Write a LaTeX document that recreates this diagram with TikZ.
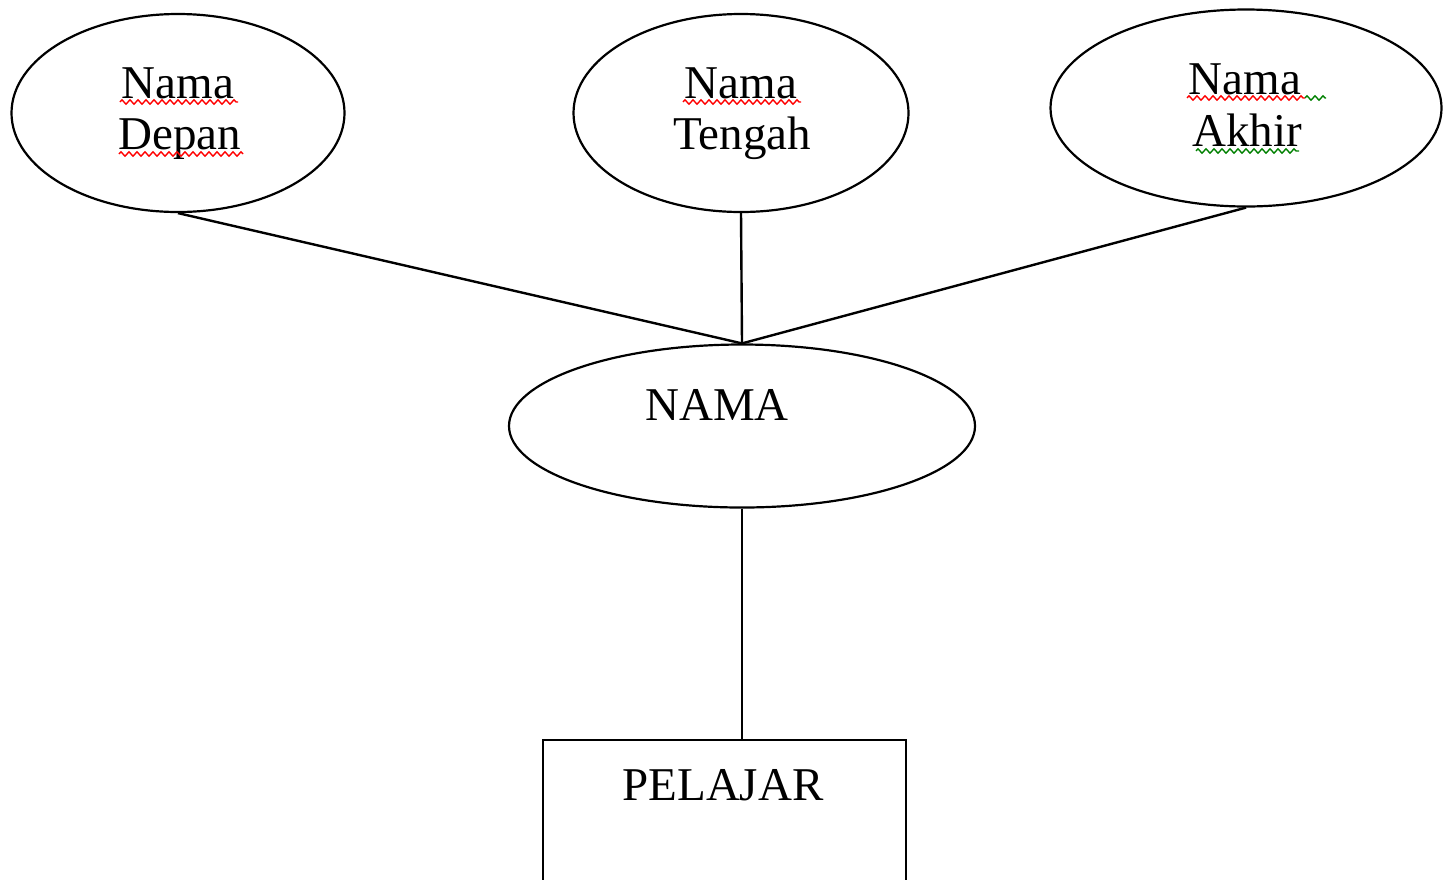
\documentclass[tikz,border=0pt]{standalone}
\usepackage{fontspec}
\setmainfont{Liberation Serif}
\usetikzlibrary{shapes.geometric,decorations.pathmorphing}
\begin{document}
\begin{tikzpicture}[x=0.5pt,y=-0.5pt,
  attr/.style={draw,ellipse,line width=1.1pt,inner sep=0pt},
  ent/.style={draw,rectangle,line width=1.2pt,inner sep=0pt},
  lbl/.style={font=\fontsize{23.5}{25}\selectfont,anchor=base,inner sep=0pt},
  link/.style={line width=1.2pt},
  spellred/.style={draw=red,line width=0.7pt,decorate,decoration={zigzag,segment length=4pt,amplitude=1.1pt}},
  spellgreen/.style={draw=green!50!black,line width=0.7pt,decorate,decoration={zigzag,segment length=4pt,amplitude=1.1pt}}]
\useasboundingbox (0,0) rectangle (1443,879);
% attributes
\node[attr,minimum width=333pt*0.5,minimum height=198pt*0.5] (depan) at (178,113) {};
\node[attr,minimum width=335pt*0.5,minimum height=198pt*0.5] (tengah) at (741,113) {};
\node[attr,minimum width=391pt*0.5,minimum height=197pt*0.5] (akhir) at (1246,108) {};
\node[attr,minimum width=466pt*0.5,minimum height=163pt*0.5] (nama) at (742,426) {};
\node[ent,minimum width=363pt*0.5,minimum height=200pt*0.5] (pelajar) at (724.5,840) {};
% labels
\node[lbl] (t1a) at (178,98) {Nama};
\node[lbl] (t1b) at (180,149) {Depan};
\node[lbl] (t2a) at (741,98) {Nama};
\node[lbl] (t2b) at (742,149) {Tengah};
\node[lbl] (t3a) at (1245,94) {Nama};
\node[lbl] (t3b) at (1247,146) {Akhir};
\node[lbl] (t4) at (717,420) {NAMA};
\node[lbl] (t5) at (723,800) {PELAJAR};
% spell-check underlines
\draw[spellred] (120,102) -- (238,102);
\draw[spellred] (119,154) -- (243,154);
\draw[spellred] (683,102) -- (801,102);
\draw[spellred] (1187,98) -- (1305,98);
\draw[spellgreen] (1305,98) -- (1326,98);
\draw[spellgreen] (1196,151) -- (1299,151);
% connectors
\draw[link] (depan.south) -- (nama.north);
\draw[link] (tengah.south) -- (nama.north);
\draw[link] (akhir.south) -- (nama.north);
\draw[link] (nama.south) -- (pelajar.north -| nama.south);
\end{tikzpicture}
\end{document}
